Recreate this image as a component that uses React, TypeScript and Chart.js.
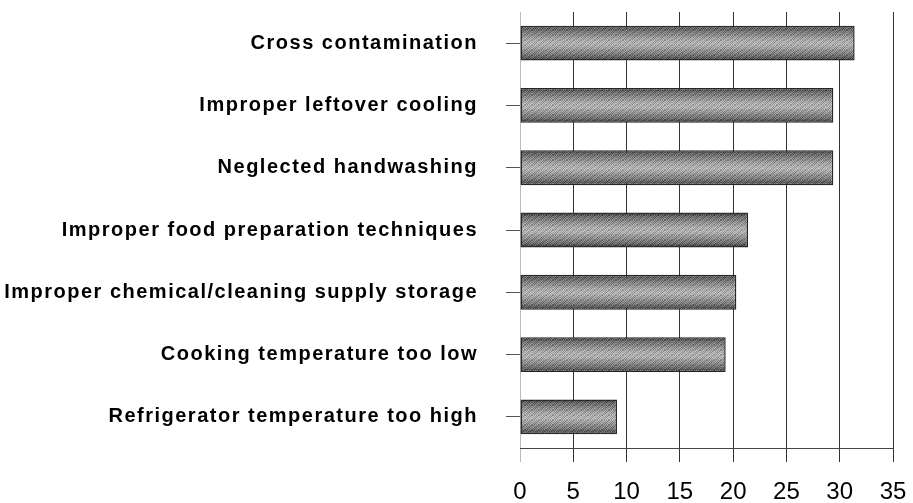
import React, { useEffect, useRef } from "react";
import { Chart, registerables } from "chart.js";

Chart.register(...registerables);

const categories = [
  "Cross contamination",
  "Improper leftover cooling",
  "Neglected handwashing",
  "Improper food preparation techniques",
  "Improper chemical/cleaning supply storage",
  "Cooking temperature too low",
  "Refrigerator temperature too high",
];
const values = [31.4, 29.4, 29.4, 21.4, 20.3, 19.3, 9.1];
const xMin = 0;
const xMax = 35;
const xStep = 5;

const FONT = "'Liberation Sans', Arial, Helvetica, sans-serif";
const BAR_PCT = 0.56;

function makeNoise(ctx: CanvasRenderingContext2D): CanvasPattern | null {
  const c = document.createElement("canvas");
  const w = 7;
  const h = 5;
  c.width = w;
  c.height = h;
  const p = c.getContext("2d");
  if (!p) return null;
  // fixed dither matrix (alpha of dark / light specks)
  const m = [
    [0.22, -0.12, 0.06, -0.22, 0.16, -0.06, 0.25],
    [-0.18, 0.12, -0.25, 0.18, -0.1, 0.22, -0.15],
    [0.1, -0.22, 0.18, -0.06, 0.25, -0.18, 0.03],
    [-0.25, 0.18, -0.1, 0.22, -0.18, 0.1, -0.22],
    [0.16, -0.06, 0.25, -0.15, 0.06, -0.25, 0.18],
  ];
  for (let y = 0; y < h; y++) {
    for (let x = 0; x < w; x++) {
      const v = m[y][x];
      p.fillStyle = v > 0 ? `rgba(0,0,0,${v})` : `rgba(255,255,255,${-v})`;
      p.fillRect(x, y, 1, 1);
    }
  }
  return ctx.createPattern(c, "repeat");
}

export default function App() {
  const ref = useRef<HTMLCanvasElement>(null);

  useEffect(() => {
    const canvas = ref.current;
    if (!canvas) return;
    const ctx = canvas.getContext("2d");
    if (!ctx) return;
    const noise = makeNoise(ctx);

    const barFill = (c: any) => {
      const chart = c.chart;
      const ys = chart.scales && chart.scales.y;
      if (!ys || c.dataIndex === undefined) return "#8c8c8c";
      const center = ys.getPixelForValue(c.dataIndex);
      const half = (ys.height / categories.length) * BAR_PCT / 2;
      if (!isFinite(center) || !isFinite(half) || half <= 0) return "#8c8c8c";
      const g = chart.ctx.createLinearGradient(0, center - half, 0, center + half);
      g.addColorStop(0, "#333333");
      g.addColorStop(0.12, "#6a6a6a");
      g.addColorStop(0.42, "#b2b2b2");
      g.addColorStop(0.55, "#bababa");
      g.addColorStop(0.85, "#727272");
      g.addColorStop(1, "#333333");
      return g;
    };

    const noisePlugin = {
      id: "noise",
      afterDatasetsDraw(chart: any) {
        if (!noise) return;
        const meta = chart.getDatasetMeta(0);
        const cx = chart.ctx;
        cx.save();
        cx.fillStyle = noise;
        meta.data.forEach((el: any) => {
          const left = Math.min(el.base, el.x);
          const right = Math.max(el.base, el.x);
          const top = el.y - el.height / 2;
          cx.fillRect(left + 1, top + 1, right - left - 2, el.height - 2);
        });
        cx.restore();
      },
    };

    const chart = new Chart(canvas, {
      type: "bar",
      data: {
        labels: categories,
        datasets: [
          {
            data: values,
            backgroundColor: barFill,
            borderColor: "#262626",
            borderWidth: 1.5,
            borderSkipped: false,
            barPercentage: BAR_PCT,
            categoryPercentage: 1,
          },
        ],
      },
      plugins: [noisePlugin],
      options: {
        indexAxis: "y",
        responsive: false,
        animation: false,
        layout: { padding: { top: 12, right: 20, left: 0, bottom: 0 } },
        plugins: {
          legend: { display: false },
          tooltip: { enabled: false },
        },
        scales: {
          x: {
            type: "linear",
            min: xMin,
            max: xMax,
            ticks: {
              stepSize: xStep,
              color: "#000",
              font: { family: FONT, size: 24 },
              padding: 16,
            },
            grid: {
              color: (c: any) => (c.tick && c.tick.value === 0 ? "#bbbbbb" : "#333333"),
              lineWidth: 1,
              drawTicks: true,
              tickLength: 14,
            },
            border: { display: true, color: "#444444", width: 1 },
            afterFit: (scale: any) => {
              scale.height = 55;
              scale.paddingLeft = 0;
              scale.paddingRight = 0;
            },
          },
          y: {
            type: "category",
            ticks: {
              color: "#000",
              font: { family: FONT, size: 20, weight: "bold" },
              padding: 28,
            },
            grid: {
              drawOnChartArea: false,
              drawTicks: true,
              tickLength: 14,
              color: "#555555",
              offset: false,
            },
            border: { display: false },
            afterFit: (scale: any) => {
              scale.width = 520;
              scale.paddingTop = 0;
              scale.paddingBottom = 0;
              if (!scale.__patched) {
                const orig = scale.drawLabels.bind(scale);
                scale.drawLabels = (area: any) => {
                  const cx = scale.ctx as any;
                  cx.save();
                  cx.letterSpacing = "1.5px";
                  orig(area);
                  cx.restore();
                };
                scale.__patched = true;
              }
            },
          },
        },
      } as any,
    });

    return () => chart.destroy();
  }, []);

  return (
    <div style={{ position: "absolute", left: 0, top: 0, width: 913, height: 503, background: "#fff" }}>
      <canvas ref={ref} width={913} height={503} style={{ display: "block" }} />
    </div>
  );
}
